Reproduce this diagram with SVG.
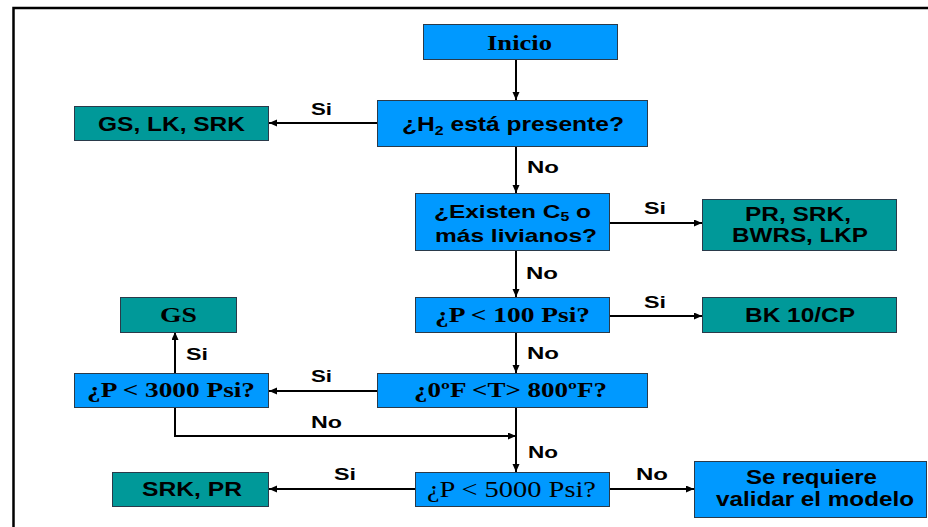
<svg xmlns="http://www.w3.org/2000/svg" width="928" height="527" viewBox="0 0 928 527">
  <style>
    .q { fill: #0099FF; stroke: #2a3a4a; stroke-width: 1; }
    .r { fill: #009999; stroke: #2a3a4a; stroke-width: 1; }
    .sans { font-family: "Liberation Sans", Arial, sans-serif; font-weight: bold; font-size: 20px; fill: #000; }
    .tight { font-size: 18.5px; }
    .serif { font-family: "Liberation Serif", "Times New Roman", serif; font-weight: bold; font-size: 22px; fill: #000; }
    .serifr { font-family: "Liberation Serif", "Times New Roman", serif; font-size: 23px; fill: #000; }
    .lbl { font-family: "Liberation Sans", Arial, sans-serif; font-weight: bold; font-size: 17px; fill: #000; }
    .conn { fill: none; stroke: #000; stroke-width: 2; marker-end: url(#arrow); }
  </style>
  <defs>
    <marker id="arrow" markerUnits="userSpaceOnUse" markerWidth="9" markerHeight="8" refX="8" refY="3.5" orient="auto">
      <path d="M0,0 L8,3.5 L0,7 z" fill="#000"/>
    </marker>
  </defs>

  <rect x="0" y="0" width="928" height="527" fill="#fff"/>
  <!-- outer frame -->
  <rect x="13.5" y="8" width="1000" height="600" fill="none" stroke="#000" stroke-width="2.5"/>

  <g id="connectors">
    <path class="conn" d="M516,59 V100"/>
    <path class="conn" d="M377,123 H269"/>
    <path class="conn" d="M516,146 V193"/>
    <path class="conn" d="M610,223 H702"/>
    <path class="conn" d="M516,251 V297"/>
    <path class="conn" d="M610,316 H702"/>
    <path class="conn" d="M516,332 V373"/>
    <path class="conn" d="M377,391 H269"/>
    <path class="conn" d="M175,373 V332"/>
    <path class="conn" d="M175,408 V436 H516"/>
    <path class="conn" d="M516,408 V472"/>
    <path class="conn" d="M415,489 H269"/>
    <path class="conn" d="M610,489 H694"/>
    <text class="lbl" x="311" y="115" textLength="21" lengthAdjust="spacingAndGlyphs">Si</text>
    <text class="lbl" x="527" y="173" textLength="32" lengthAdjust="spacingAndGlyphs">No</text>
    <text class="lbl" x="644" y="214" textLength="22" lengthAdjust="spacingAndGlyphs">Si</text>
    <text class="lbl" x="526" y="279" textLength="32" lengthAdjust="spacingAndGlyphs">No</text>
    <text class="lbl" x="644" y="308" textLength="22" lengthAdjust="spacingAndGlyphs">Si</text>
    <text class="lbl" x="527" y="359" textLength="32" lengthAdjust="spacingAndGlyphs">No</text>
    <text class="lbl" x="311" y="382" textLength="21" lengthAdjust="spacingAndGlyphs">Si</text>
    <text class="lbl" x="186" y="360" textLength="22" lengthAdjust="spacingAndGlyphs">Si</text>
    <text class="lbl" x="311" y="428" textLength="31" lengthAdjust="spacingAndGlyphs">No</text>
    <text class="lbl" x="528" y="458" textLength="30" lengthAdjust="spacingAndGlyphs">No</text>
    <text class="lbl" x="334" y="480" textLength="22" lengthAdjust="spacingAndGlyphs">Si</text>
    <text class="lbl" x="636" y="480" textLength="32" lengthAdjust="spacingAndGlyphs">No</text>
  </g>

  <g id="inicio">
    <rect class="q" x="423.5" y="24.5" width="194" height="35"/>
    <text class="serif" x="487" y="50" textLength="65" lengthAdjust="spacingAndGlyphs">Inicio</text>
  </g>

  <g id="h2-presente">
    <rect class="q" x="377.5" y="100.5" width="270" height="46"/>
    <text class="sans" x="402" y="131" textLength="222" lengthAdjust="spacingAndGlyphs">¿H<tspan font-size="13" dy="4">2</tspan><tspan dy="-4"> está presente?</tspan></text>
  </g>

  <g id="gs-lk-srk">
    <rect class="r" x="74.5" y="106.5" width="194" height="34"/>
    <text class="sans" x="98" y="131" textLength="147" lengthAdjust="spacingAndGlyphs">GS, LK, SRK</text>
  </g>

  <g id="c5-livianos">
    <rect class="q" x="415.5" y="193.5" width="194" height="57"/>
    <text class="sans tight" x="434" y="218" textLength="157" lengthAdjust="spacingAndGlyphs">¿Existen C<tspan font-size="12" dy="3">5</tspan><tspan dy="-3"> o</tspan></text>
    <text class="sans tight" x="435" y="242" textLength="162" lengthAdjust="spacingAndGlyphs">más livianos?</text>
  </g>

  <g id="pr-srk-bwrs-lkp">
    <rect class="r" x="702.5" y="199.5" width="194" height="51"/>
    <text class="sans" x="745" y="221" textLength="106" lengthAdjust="spacingAndGlyphs">PR, SRK,</text>
    <text class="sans" x="732" y="242" textLength="136" lengthAdjust="spacingAndGlyphs">BWRS, LKP</text>
  </g>

  <g id="p-100">
    <rect class="q" x="415.5" y="297.5" width="194" height="35"/>
    <text class="serif" x="435" y="322" textLength="155" lengthAdjust="spacingAndGlyphs">¿P &lt; 100 Psi?</text>
  </g>

  <g id="bk10-cp">
    <rect class="r" x="702.5" y="297.5" width="194" height="35"/>
    <text class="sans" x="745" y="322" textLength="110" lengthAdjust="spacingAndGlyphs">BK 10/CP</text>
  </g>

  <g id="gs">
    <rect class="r" x="120.5" y="297.5" width="116" height="35"/>
    <text class="serif" x="160" y="322" textLength="37" lengthAdjust="spacingAndGlyphs">GS</text>
  </g>

  <g id="temperatura">
    <rect class="q" x="377.5" y="373.5" width="270" height="34"/>
    <text class="serif" x="414" y="397" textLength="193" lengthAdjust="spacingAndGlyphs">¿0ºF &lt;T&gt; 800ºF?</text>
  </g>

  <g id="p-3000">
    <rect class="q" x="74.5" y="373.5" width="194" height="34"/>
    <text class="serif" x="87" y="397" textLength="168" lengthAdjust="spacingAndGlyphs">¿P &lt; 3000 Psi?</text>
  </g>

  <g id="p-5000">
    <rect class="q" x="415.5" y="472.5" width="194" height="34"/>
    <text class="serifr" x="427" y="497" textLength="169" lengthAdjust="spacingAndGlyphs">¿P &lt; 5000 Psi?</text>
  </g>

  <g id="srk-pr">
    <rect class="r" x="112.5" y="472.5" width="156" height="34"/>
    <text class="sans" x="142" y="496" textLength="100" lengthAdjust="spacingAndGlyphs">SRK, PR</text>
  </g>

  <g id="validar-modelo">
    <rect class="q" x="694.5" y="461.5" width="232" height="56"/>
    <text class="sans" x="746" y="484" textLength="131" lengthAdjust="spacingAndGlyphs">Se requiere</text>
    <text class="sans" x="716" y="506" textLength="198" lengthAdjust="spacingAndGlyphs">validar el modelo</text>
  </g>
</svg>
